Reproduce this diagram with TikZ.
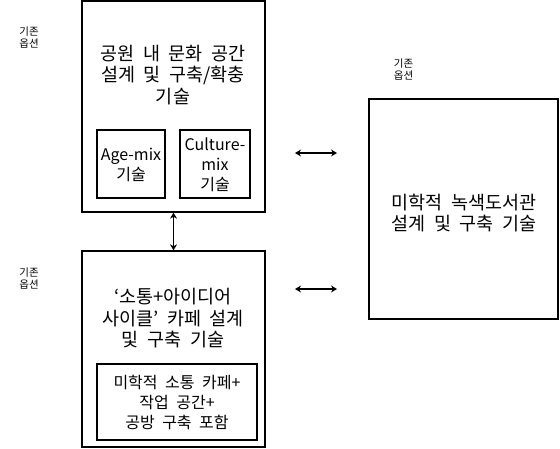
\documentclass[tikz,border=0pt]{standalone}
\usepackage{fontspec}
\setmainfont{Noto Sans CJK KR}[WordSpace=2.1]
\usetikzlibrary{arrows.meta}
\begin{document}
\begin{tikzpicture}[x=1pt,y=-1pt,
  box/.style={draw=black,line width=1.3pt,minimum width=#1,inner sep=0pt},
  ttl/.style={align=center,font=\fontsize{18.5}{21.5}\selectfont,inner sep=0pt},
  sml/.style={align=center,font=\fontsize{16}{20}\selectfont,inner sep=0pt},
  opt/.style={align=center,font=\fontsize{10.5}{12.5}\selectfont,inner sep=0pt},
  dbl/.style={line width=1.5pt,{Stealth[length=6pt,width=7pt]}-{Stealth[length=6pt,width=7pt]}}]
\useasboundingbox (0,0) rectangle (560,449);
% boxes
\node[box=183pt,minimum height=211pt] (tl) at (173.5,106.5) {};
\node[box=68pt,minimum height=68pt] (age) at (131,164) {};
\node[box=70pt,minimum height=68pt] (cul) at (215,164) {};
\node[box=183pt,minimum height=196pt] (bl) at (173.5,349) {};
\node[box=160pt,minimum height=76pt] (bin) at (177,402) {};
\node[box=189pt,minimum height=220pt] (rb) at (463.5,209) {};
% texts
\node[ttl] (tlt) at (173,75) {공원 내 문화 공간\\설계 및 구축/확충\\기술};
\node[sml] (aget) at (131,165) {Age-mix\\기술};
\node[sml] (cult) at (215,165) {Culture-\\mix\\기술};
\node[ttl] (blt) at (173,318.5) {‘소통+아이디어\\사이클’ 카페 설계\\및 구축 기술};
\node[sml] (bint) at (177,402.5) {미학적 소통 카페+\\작업 공간+\\공방 구축 포함};
\node[ttl] (rbt) at (464,213) {미학적 녹색도서관\\설계 및 구축 기술};
\node[opt] (o1) at (29,37.5) {기존\\옵션};
\node[opt] (o2) at (29,278.5) {기존\\옵션};
\node[opt] (o3) at (403.5,69.5) {기존\\옵션};
% arrows
\coordinate (a1l) at (295,153);
\coordinate (a1r) at (337,153);
\coordinate (a2l) at (295,289);
\coordinate (a2r) at (337,289);
\draw[dbl] (a1l) -- (a1r);
\draw[dbl] (a2l) -- (a2r);
\draw[dbl] (tl.south) -- (bl.north);
\end{tikzpicture}
\end{document}
